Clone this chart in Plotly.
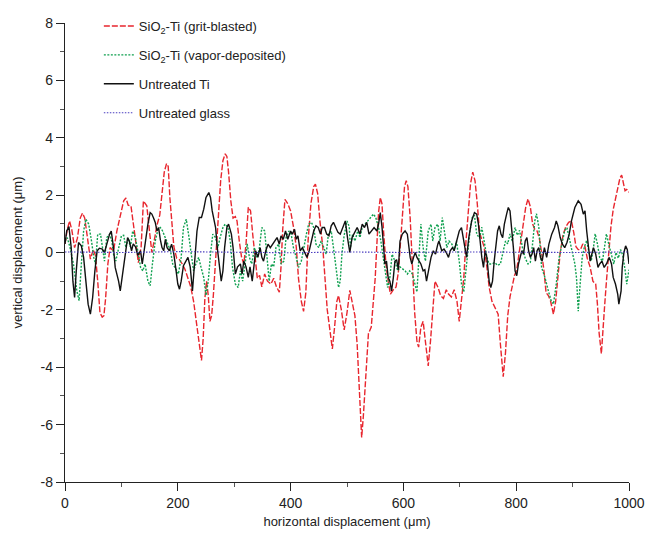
import plotly.graph_objects as go

# ---------------- data ----------------
grit_x = [0, 4, 8, 12, 17, 22, 27, 31, 35, 40, 45, 50, 54, 58, 62, 66, 69, 72, 76, 80, 86, 92, 98, 104, 108, 112, 117, 122, 126, 130, 135, 139, 145, 150, 154, 159, 163, 168, 172, 176, 180, 183, 186, 190, 193, 198, 203, 208, 213, 218, 223, 228, 233, 238, 242, 245, 248, 251, 254, 257, 260, 263, 266, 269, 272, 276, 280, 284, 287, 290, 294, 298, 302, 305, 309, 313, 317, 321, 325, 329, 333, 337, 341, 345, 349, 354, 359, 365, 370, 375, 380, 383, 386, 390, 395, 400, 405, 410, 414, 419, 423, 427, 431, 436, 441, 444, 448, 452, 457, 461, 465, 469, 474, 478, 482, 485, 490, 495, 500, 505, 510, 514, 518, 521, 524, 526, 529, 532, 535, 538, 543, 547, 550, 553, 556, 559, 562, 565, 569, 573, 577, 582, 587, 591, 595, 599, 602, 605, 608, 612, 616, 620, 624, 627, 631, 635, 639, 644, 648, 652, 656, 661, 666, 671, 676, 680, 685, 690, 695, 699, 703, 707, 711, 715, 719, 723, 727, 731, 735, 739, 743, 748, 752, 757, 762, 768, 772, 777, 781, 785, 789, 793, 797, 801, 805, 809, 813, 817, 821, 825, 829, 833, 837, 841, 845, 849, 853, 857, 861, 866, 870, 874, 878, 883, 888, 893, 898, 902, 906, 910, 914, 918, 922, 926, 931, 936, 941, 944, 947, 951, 954, 957, 960, 964, 968, 972, 976, 980, 984, 987, 990, 993, 996, 1000]
grit_y = [0.3, 0.8, 1.1, 0.8, 0.17, 0.5, 1.2, 1.37, 1.2, 0.4, -0.23, 0.1, -0.1, -1.0, -2.1, -2.25, -2.2, -1.6, -0.4, 0.17, 0.06, 0.75, 1.33, 1.8, 1.9, 1.65, 1.62, 0.95, 0.29, -0.35, 0.2, 1.8, 1.63, 0.7, 0.0, 0.5, 0.95, 1.3, 2.2, 2.8, 3.1, 3.0, 1.9, 0.9, 0.2, -0.2, -0.25, -0.4, -0.6, -0.9, -1.2, -1.7, -2.5, -3.3, -3.76, -3.0, -1.6, -1.0, -1.5, -2.4, -2.2, -1.5, -0.6, 0.4, 1.4, 2.5, 3.2, 3.44, 3.35, 2.8, 1.8, 1.2, 1.25, 1.1, 0.4, -0.16, -0.4, 0.3, 1.58, 1.45, 0.6, -0.3, -0.9, -0.8, -1.2, -0.75, -1.0, -1.1, -0.9, -1.2, -1.38, -0.5, 0.8, 1.85, 1.7, 1.45, 0.9, 0.2, -0.9, -1.7, -2.05, -1.4, 0.4, 1.7, 2.3, 2.38, 2.05, 1.1, 0.2, -0.9, -2.0, -2.6, -3.36, -2.6, -1.7, -1.5, -2.0, -2.7, -2.1, -1.32, -1.8, -2.2, -3.2, -4.6, -5.9, -6.45, -5.7, -4.8, -3.6, -2.83, -2.6, -1.67, -0.9, 0.3, 1.4, 1.92, 1.7, 0.7, -0.4, -1.0, -1.45, -1.3, -1.2, -0.7, 0.4, 1.6, 2.3, 2.5, 2.3, 1.2, -0.4, -2.1, -3.1, -3.3, -2.6, -2.4, -3.1, -3.95, -3.1, -2.0, -1.0, -1.2, -1.5, -1.6, -1.3, -1.45, -1.55, -1.3, -1.7, -2.4, -1.6, -0.9, 0.4, 1.5, 2.4, 2.8, 2.5, 1.7, 0.7, 0.45, 0.2, -0.5, -1.2, -1.7, -1.9, -2.15, -3.2, -4.33, -3.5, -2.2, -1.55, -1.1, -0.8, -0.6, 0.0, 0.4, 1.1, 1.6, 1.87, 1.6, 1.0, 0.8, 0.75, 0.5, 0.0, -0.6, -1.4, -1.5, -1.7, -2.15, -1.7, -0.9, 0.0, 0.6, 0.9, 1.05, 1.1, 0.7, 0.2, 0.1, 0.1, 0.3, 0.2, -0.2, -0.5, -1.0, -1.1, -1.8, -2.8, -3.53, -2.8, -1.8, -1.0, 0.0, 0.9, 1.5, 1.9, 2.3, 2.6, 2.7, 2.45, 2.15, 2.2, 2.1]

vapor_x = [0, 4, 9, 15, 21, 25, 29, 33, 37, 42, 47, 51, 54, 58, 63, 67, 70, 74, 79, 83, 86, 90, 95, 100, 104, 108, 112, 116, 120, 125, 129, 134, 138, 142, 147, 151, 155, 160, 165, 169, 173, 178, 182, 187, 191, 196, 201, 206, 210, 215, 219, 224, 228, 232, 237, 241, 246, 250, 254, 258, 262, 267, 271, 275, 280, 284, 289, 293, 297, 302, 307, 311, 315, 320, 323, 327, 331, 336, 340, 344, 349, 354, 358, 362, 366, 370, 374, 379, 383, 388, 392, 397, 401, 405, 410, 414, 419, 423, 428, 432, 437, 441, 445, 450, 454, 459, 463, 467, 472, 476, 480, 485, 488, 491, 495, 500, 504, 506, 510, 514, 519, 523, 527, 532, 536, 541, 547, 551, 556, 560, 564, 569, 572, 576, 580, 585, 590, 594, 598, 603, 607, 611, 616, 620, 624, 628, 631, 635, 639, 644, 649, 652, 656, 661, 665, 669, 673, 677, 681, 686, 690, 694, 699, 703, 707, 711, 714, 718, 722, 726, 730, 735, 739, 744, 748, 752, 757, 762, 767, 772, 777, 781, 785, 789, 793, 798, 802, 806, 811, 816, 821, 825, 829, 833, 836, 840, 845, 851, 857, 862, 866, 871, 876, 881, 886, 890, 895, 900, 904, 907, 910, 913, 917, 921, 925, 929, 933, 937, 940, 944, 948, 953, 957, 960, 964, 969, 973, 977, 981, 985, 989, 993, 996, 1000]
vapor_y = [0.4, 0.52, 0.17, -0.4, -1.34, -1.68, -0.4, 0.75, 1.16, 0.99, 0.4, -0.17, -0.4, 0.64, 0.64, 0.17, -0.3, 0.52, 0.64, 0.4, -0.06, -0.3, 0.17, 0.58, 0.6, 0.17, 0.5, 0.2, 0.75, 0.5, 0.06, -0.52, -0.64, -0.4, -1.0, -1.16, -0.4, 0.4, 0.81, 0.87, 0.75, 0.52, 0.3, 0.06, -0.4, -0.55, -0.75, -0.17, 0.87, 1.16, 0.64, -0.17, -0.64, -0.4, -0.17, -0.5, -0.87, -1.5, -1.0, -0.06, 0.64, 0.52, 0.17, 0.52, 0.87, 0.99, 0.87, 0.4, -0.52, -1.1, -1.22, -0.64, -1.0, -0.3, 0.3, -0.17, -0.4, 0.17, -0.17, 0.06, 0.87, 0.75, -0.17, -1.0, -0.4, -0.5, 0.17, 0.29, -0.4, -0.3, 0.52, 0.75, 0.64, 0.17, -0.17, -0.52, -0.3, 0.17, 0.64, 0.99, 1.05, 0.87, 0.29, 0.17, 0.4, 0.17, -0.06, 0.64, 0.75, 0.17, -0.4, -1.22, -0.99, -0.06, 0.6, 1.1, 0.9, 0.17, 0.64, 0.4, 0.75, 0.52, 0.87, 0.99, 1.1, 1.22, 1.34, 1.22, 0.87, 0.4, -0.17, -0.75, -1.22, -0.87, -0.06, -0.3, -0.64, -0.5, -0.55, -0.64, -0.75, -0.64, -0.75, -1.1, -1.38, 0.0, 0.99, 0.17, -0.3, 0.75, 0.99, 0.4, 0.87, 0.99, 0.4, 1.22, 0.75, 0.17, 0.4, 0.29, 0.06, 0.4, -0.3, -1.1, -1.38, -0.6, 0.06, 0.75, 1.22, 1.3, 0.64, 0.5, 0.88, 0.2, -0.17, -0.4, -0.4, -0.35, -0.45, -0.4, 0.1, 0.4, 0.3, 0.65, 0.4, 0.87, 0.6, 0.77, 0.17, -0.2, -0.4, -0.35, 0.3, 1.1, 1.35, 0.9, -0.52, -0.87, -1.34, -1.68, -1.8, -1.1, -0.2, 0.3, 0.77, 0.87, 0.4, -0.06, -0.4, -0.9, -2.05, -1.2, -0.17, 0.2, 0.42, 0.0, -0.3, 0.17, 0.65, 0.3, -0.17, -0.3, 0.2, 0.65, 0.3, -0.06, -0.4, 0.0, -0.2, 0.1, -0.1, -0.6, -1.1, -0.6]

ti_x = [0, 3, 7, 11, 14, 17, 20, 24, 29, 33, 37, 41, 45, 49, 53, 57, 61, 66, 70, 74, 79, 82, 86, 89, 92, 95, 98, 101, 104, 108, 111, 114, 118, 121, 125, 129, 134, 137, 140, 144, 147, 151, 154, 157, 160, 163, 166, 169, 172, 175, 178, 181, 185, 189, 193, 197, 200, 203, 206, 210, 214, 218, 222, 226, 230, 234, 238, 242, 246, 250, 255, 258, 261, 264, 267, 270, 274, 277, 280, 283, 287, 290, 295, 298, 302, 306, 311, 314, 317, 321, 325, 328, 332, 335, 338, 342, 346, 349, 352, 356, 360, 364, 368, 372, 376, 380, 383, 387, 391, 395, 400, 403, 407, 410, 413, 417, 421, 425, 429, 433, 437, 441, 445, 449, 453, 456, 460, 464, 468, 472, 476, 480, 484, 488, 492, 497, 501, 505, 509, 514, 518, 523, 527, 531, 535, 539, 544, 548, 553, 556, 559, 562, 565, 567, 570, 573, 576, 579, 582, 585, 588, 591, 594, 598, 603, 607, 612, 615, 618, 621, 624, 628, 631, 635, 638, 641, 645, 649, 653, 657, 661, 663, 668, 672, 676, 680, 683, 687, 690, 694, 699, 703, 706, 709, 712, 716, 721, 726, 730, 733, 736, 739, 742, 745, 748, 752, 755, 758, 761, 764, 767, 770, 773, 776, 779, 783, 786, 789, 792, 795, 798, 801, 804, 807, 810, 813, 816, 819, 822, 825, 828, 831, 834, 837, 840, 843, 846, 850, 854, 858, 863, 868, 871, 874, 878, 882, 886, 890, 894, 898, 904, 910, 915, 919, 922, 925, 928, 931, 934, 937, 941, 945, 948, 952, 956, 960, 965, 969, 972, 976, 980, 982, 986, 988, 991, 994, 997, 1000]
ti_y = [0.3, 0.75, 0.9, 0.17, -1.0, -1.57, -0.64, 0.35, 0.23, -0.17, -1.0, -1.8, -2.15, -1.57, -0.64, 0.06, 0.15, 0.12, 0.0, 0.3, 0.64, 0.75, 0.17, -0.52, -0.75, -1.0, -1.34, -0.9, -0.52, 0.1, 0.52, 0.4, 0.06, 0.3, 0.2, -0.1, 0.06, -0.4, 0.06, 0.64, 0.99, 1.39, 1.34, 1.2, 1.05, 0.75, 0.87, 0.45, 0.17, 0.06, 0.46, 0.17, 0.06, 0.29, -0.06, -0.64, -1.1, -1.28, -1.0, -0.46, -0.3, -0.17, -0.5, -1.34, -0.3, 0.75, 1.22, 1.22, 1.51, 1.92, 2.09, 1.92, 1.45, 1.1, 0.87, 0.17, -0.52, -1.0, -0.64, 0.17, 0.87, 0.99, 0.64, 0.17, -0.75, -0.5, -0.4, -0.75, -0.3, -0.5, -0.87, -0.5, -1.0, -0.4, 0.06, -0.17, 0.17, -0.17, -0.3, 0.06, 0.29, 0.17, 0.29, 0.4, 0.52, 0.29, 0.58, 0.46, 0.75, 0.46, 0.75, 0.64, 0.81, 0.46, 0.58, 0.06, 0.17, 0.0, -0.17, 0.06, 0.4, 0.75, 0.93, 0.87, 0.64, 0.87, 0.87, 0.64, 0.58, 0.93, 1.05, 0.87, 0.7, 0.64, 0.87, 1.1, 0.5, 0.0, 0.52, 0.75, 0.87, 0.64, 0.99, 0.87, 1.05, 0.64, 0.75, 0.87, 0.75, 1.0, 1.39, 0.9, 0.17, -0.4, -0.3, -0.87, -1.0, -1.34, -0.9, -0.3, -0.25, -0.6, 0.4, 0.64, 0.75, 0.64, -0.17, -0.4, -0.17, 0.0, -0.17, -0.3, -0.4, -0.64, -0.6, -1.0, -0.64, -0.17, 0.06, -0.06, 0.29, 0.4, 0.06, 0.12, 0.0, -0.17, 0.06, 0.17, 0.06, 0.4, 0.75, 0.87, 0.5, 0.06, -0.17, 0.52, 1.1, 1.39, 1.34, 0.99, 0.4, -0.17, -0.52, 0.06, -0.17, -1.0, -1.22, -1.0, -0.3, 0.17, 0.75, 0.93, 0.64, 0.52, 0.99, 1.34, 1.57, 1.45, 0.87, 0.17, -0.64, -0.81, -0.4, -0.17, 0.06, -0.06, 0.4, 0.52, 0.06, -0.17, -0.06, 0.17, -0.3, 0.06, 0.17, -0.17, -0.3, 0.17, -0.17, 0.29, 0.64, 0.87, 1.1, 0.93, 0.52, 0.29, 0.17, 0.35, 0.64, 1.1, 1.57, 1.8, 1.68, 1.34, 1.45, 0.75, 0.17, -0.3, -0.06, 0.17, -0.06, -0.52, -0.4, -0.3, -0.52, -0.4, -0.17, -0.4, -0.87, -1.1, -1.45, -1.8, -1.34, -0.52, 0.0, 0.23, 0.1, -0.4]

glass_x = [0, 100, 200, 300, 400, 500, 600, 700, 800, 900, 1000]
glass_y = [0.02, 0.0, 0.03, 0.01, -0.01, 0.02, 0.0, 0.02, 0.01, 0.0, 0.02]

names = ["SiO<sub>2</sub>-Ti (grit-blasted)", "SiO<sub>2</sub>-Ti (vapor-deposited)",
         "Untreated Ti", "Untreated glass"]

x_ticks = [0, 200, 400, 600, 800, 1000]
x_labels = ["0", "200", "400", "600", "800", "1000"]
y_ticks = [-8, -6, -4, -2, 0, 2, 4, 6, 8]
y_labels = ["-8", "-6", "-4", "-2", "0", "2", "4", "6", "8"]

# ---------------- figure ----------------
fig = go.Figure()
series = [
    (grit_x, grit_y, names[0], dict(color="#e8262e", width=1.4, dash="6px,2px")),
    (vapor_x, vapor_y, names[1], dict(color="#0fa04f", width=1.4, dash="2px,1.5px")),
    (ti_x, ti_y, names[2], dict(color="#111111", width=1.4)),
    (glass_x, glass_y, names[3], dict(color="#4a3cc0", width=1.1, dash="1.5px,1.5px")),
]
for i, (xs, ys, nm, ln) in enumerate(series):
    fig.add_trace(go.Scatter(x=xs, y=ys, name=nm, mode="lines", line=ln,
                             legendgroup=f"g{i}"))

base = "Liberation Sans, Arial, sans-serif"
title_font = dict(family=base, size=13, color="#222")
tick_font = dict(family=base, size=14, color="#222")
fig.update_layout(
    width=646, height=534,
    margin=dict(l=65, r=17, t=23, b=52, autoexpand=False),
    paper_bgcolor="white", plot_bgcolor="white",
    font=title_font,
    showlegend=True,
    legend=dict(x=0.060, y=1.026, xanchor="left", yanchor="top",
                bgcolor="rgba(0,0,0,0)", font=dict(family=base, size=13, color="#222"),
                traceorder="grouped", tracegroupgap=9),
    xaxis=dict(range=[0, 1000], tickmode="array", tickvals=x_ticks, ticktext=x_labels,
               ticks="outside", ticklen=8, tickwidth=1.2, tickcolor="#222",
               showline=True, linecolor="#222", linewidth=1.3, showgrid=False,
               zeroline=False, automargin=False,
               minor=dict(ticks="outside", ticklen=4, dtick=100, tick0=0,
                          tickcolor="#555", showgrid=False),
               title=dict(text="horizontal displacement (μm)", standoff=6, font=title_font),
               tickfont=tick_font),
    yaxis=dict(range=[-8, 8], tickmode="array", tickvals=y_ticks, ticktext=y_labels,
               ticks="outside", ticklen=8, tickwidth=1.2, tickcolor="#222",
               showline=True, linecolor="#222", linewidth=1.3, showgrid=False,
               zeroline=False, automargin=False,
               minor=dict(ticks="outside", ticklen=4, dtick=1, tick0=0,
                          tickcolor="#555", showgrid=False),
               title=dict(text="vertical displacement (μm)", standoff=15, font=title_font),
               tickfont=tick_font),
)

fig.write_html("out.html", post_script="document.body.style.margin='0px';",
               config={"displayModeBar": False})
